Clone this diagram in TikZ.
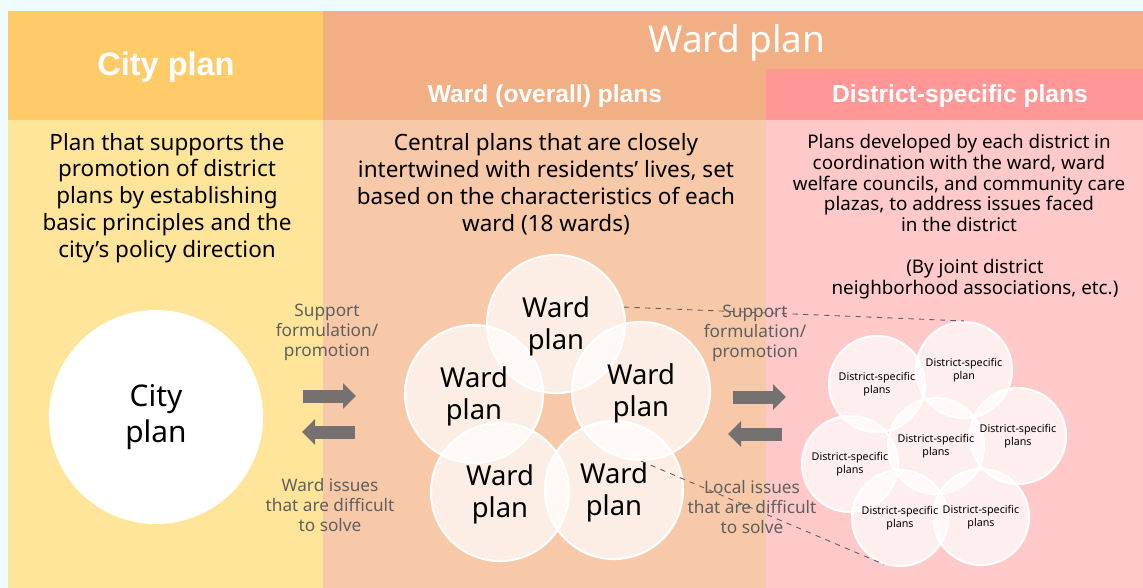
\documentclass[tikz,border=0pt]{standalone}
\usepackage{fontspec}
\setmainfont{Noto Sans}
\newfontfamily\headfont{Liberation Sans}
\usepackage{xcolor}
\usetikzlibrary{positioning,arrows.meta}

\definecolor{pagebg}{HTML}{F0FBFF}
\definecolor{cityhead}{HTML}{FFCB69}
\definecolor{citybody}{HTML}{FFE599}
\definecolor{wardhead}{HTML}{F3AF84}
\definecolor{wardbody}{HTML}{F8C9A9}
\definecolor{disthead}{HTML}{FF9797}
\definecolor{distbody}{HTML}{FFC9C9}
\definecolor{arrowgray}{HTML}{767171}
\definecolor{labelgray}{HTML}{5F5F5F}

\tikzset{
  headtext/.style={text=white, font=\headfont\bfseries\fontsize{14}{16}\selectfont},
  bodytext/.style={align=center, font=\fontsize{12.8}{15.3}\selectfont},
  flowlabel/.style={align=center, text=labelgray, font=\fontsize{9.8}{11.4}\selectfont},
  planbubble/.style={circle, draw=white, line width=1.2pt, fill=white, fill opacity=0.7, inner sep=0pt},
  wardbubble/.style={planbubble, minimum size=2.76cm},
  distbubble/.style={planbubble, minimum size=1.92cm},
  flowarrow/.style={arrowgray, line width=0.26cm, -{Triangle[length=0.26cm, width=0.5cm]}},
  linkline/.style={labelgray, dashed, line width=0.5pt}
}

\begin{document}
\begin{tikzpicture}[x=0.02cm, y=-0.02cm]
  \useasboundingbox (0,0) rectangle (1143,588);
  \fill[pagebg] (0,0) rectangle (1143,588);

  % Column panels
  \fill[cityhead] (8,11) rectangle (323,120);
  \fill[citybody] (8,120) rectangle (323,588);
  \fill[wardhead] (323,11) rectangle (1143,120);
  \fill[disthead] (766,69) rectangle (1143,120);
  \fill[wardbody] (323,120) rectangle (766,588);
  \fill[distbody] (766,120) rectangle (1143,588);

  % Headings
  \node[headtext, font=\headfont\bfseries\fontsize{18.5}{20}\selectfont] (cityTitle) at (166,67) {City plan};
  \node[text=white, font=\fontsize{21}{24}\selectfont] (wardTitle) at (737,43) {Ward plan};
  \node[headtext] (wardSub) at (545,96) {Ward (overall) plans};
  \node[headtext] (distSub) at (960,96) {District-specific plans};

  % Descriptions
  \node[bodytext] (cityText) at (167,198) {Plan that supports the\\promotion of district\\plans by establishing\\basic principles and the\\city's policy direction};
  \node[bodytext] (wardText) at (546,184) {Central plans that are closely\\intertwined with residents' lives, set\\based on the characteristics of each\\ward (18 wards)};
  \node[bodytext, font=\fontsize{10.7}{11.9}\selectfont] (distText) at (959,183) {Plans developed by each district in\\coordination with the ward, ward\\welfare councils, and community care\\plazas, to address issues faced\\in the district};
  \node[bodytext, font=\fontsize{10.7}{11.9}\selectfont] (distNote) at (975,279) {(By joint district\\neighborhood associations, etc.)};

  % City plan
  \node[circle, fill=white, minimum size=4.28cm, align=center,
        font=\fontsize{17}{20.8}\selectfont] (city) at (156,417) {City\\plan};

  % Ward plans
  \node[wardbubble] (w1) at (556,324) {};
  \node[wardbubble] (w2) at (641,391) {};
  \node[wardbubble] (w3) at (614,490) {};
  \node[wardbubble] (w4) at (500,492) {};
  \node[wardbubble] (w5) at (474,394) {};
  \foreach \w in {w1,w2,w3,w4,w5}
    \node[align=center, font=\fontsize{15.6}{18.5}\selectfont] at ([yshift=-0.05cm]\w) {Ward\\plan};

  % District-specific plans
  \node[distbubble] (d1) at (877,384) {};
  \node[distbubble] (d2) at (964,370) {};
  \node[distbubble] (d3) at (1018,436) {};
  \node[distbubble] (d4) at (981,517) {};
  \node[distbubble] (d5) at (900,518) {};
  \node[distbubble] (d6) at (850,464) {};
  \node[distbubble] (d7) at (936,446) {};
  \foreach \d in {d1,d3,d4,d5,d6,d7}
    \node[align=center, font=\fontsize{6.1}{7.4}\selectfont] at (\d) {District-specific\\plans};
  \node[align=center, font=\fontsize{6.1}{7.4}\selectfont] at (d2) {District-specific\\plan};

  % Dashed links from a ward to its districts
  \draw[linkline] (w1.14) -- (d2.north);
  \draw[linkline] (w2.-90) -- (d5.-109);

  % Flow arrows
  \coordinate (a1s) at (303,396);
  \coordinate (a1e) at (356,396);
  \coordinate (a2s) at (355,432);
  \coordinate (a2e) at (302,432);
  \coordinate (a3s) at (733,397);
  \coordinate (a3e) at (786,397);
  \coordinate (a4s) at (782,434);
  \coordinate (a4e) at (728,434);
  \draw[flowarrow] (a1s) -- (a1e);
  \draw[flowarrow] (a2s) -- (a2e);
  \draw[flowarrow] (a3s) -- (a3e);
  \draw[flowarrow] (a4s) -- (a4e);

  % Arrow labels
  \node[flowlabel] (sup1) at (327,332) {Support\\formulation/\\promotion};
  \node[flowlabel] (iss1) at (330,505) {Ward issues\\that are difficult\\to solve};
  \node[flowlabel] (sup2) at (755,333) {Support\\formulation/\\promotion};
  \node[flowlabel] (iss2) at (752,507) {Local issues\\that are difficult\\to solve};
\end{tikzpicture}
\end{document}
